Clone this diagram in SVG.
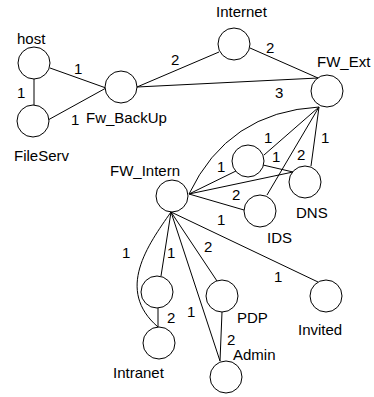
<svg xmlns="http://www.w3.org/2000/svg" width="374" height="397" viewBox="0 0 374 397">
<style>
.n{fill:#fff;stroke:#000;stroke-width:1}
.e{fill:none;stroke:#000;stroke-width:1}
text{font-family:"Liberation Sans",Arial,sans-serif;font-size:15px;fill:#000}
</style>
<rect width="374" height="397" fill="#fff"/>
<g id="connectors">
<line class="e" x1="34" y1="79" x2="34" y2="105"/>
<line class="e" x1="50" y1="68" x2="106" y2="88"/>
<line class="e" x1="48" y1="120" x2="106" y2="88"/>
<line class="e" x1="137" y1="87" x2="219" y2="52"/>
<line class="e" x1="137" y1="87" x2="318" y2="78"/>
<line class="e" x1="250" y1="48" x2="318" y2="78"/>
<path class="e" d="M319,107 Q228,112 189,194"/>
<line class="e" x1="319" y1="107" x2="264" y2="155"/>
<line class="e" x1="319" y1="107" x2="267" y2="195"/>
<line class="e" x1="319" y1="107" x2="311" y2="166"/>
<line class="e" x1="263" y1="165" x2="293" y2="172"/>
<line class="e" x1="189" y1="194" x2="238" y2="170"/>
<line class="e" x1="189" y1="194" x2="293" y2="172"/>
<line class="e" x1="189" y1="194" x2="244" y2="210"/>
<line class="e" x1="171" y1="212" x2="318" y2="282"/>
<path class="e" d="M171,212 C148,245 115,290 158,327"/>
<line class="e" x1="171" y1="212" x2="161" y2="276"/>
<line class="e" x1="171" y1="212" x2="220" y2="361"/>
<line class="e" x1="171" y1="212" x2="217" y2="281"/>
<line class="e" x1="158" y1="308" x2="158" y2="327"/>
<line class="e" x1="222" y1="312" x2="220" y2="361"/>
</g>
<g id="host"><circle class="n" cx="34" cy="63" r="16"/><text x="17" y="44">host</text></g>
<g id="FileServ"><circle class="n" cx="33" cy="121" r="16"/><text x="14" y="161">FileServ</text></g>
<g id="Fw_BackUp"><circle class="n" cx="121" cy="87" r="16"/><text x="86" y="123">Fw_BackUp</text></g>
<g id="Internet"><circle class="n" cx="234" cy="44" r="16"/><text x="216" y="17">Internet</text></g>
<g id="FW_Ext"><circle class="n" cx="327" cy="91" r="16"/><text x="317" y="67">FW_Ext</text></g>
<g id="node_a"><circle class="n" cx="248" cy="161" r="16"/></g>
<g id="DNS"><circle class="n" cx="305" cy="182" r="16"/><text x="296" y="218">DNS</text></g>
<g id="IDS"><circle class="n" cx="260" cy="211" r="16"/><text x="267" y="243">IDS</text></g>
<g id="FW_Intern"><circle class="n" cx="172" cy="196" r="16"/><text x="110" y="176">FW_Intern</text></g>
<g id="node_b"><circle class="n" cx="157" cy="292" r="16"/></g>
<g id="Intranet"><circle class="n" cx="159" cy="343" r="16"/><text x="113" y="378">Intranet</text></g>
<g id="PDP"><circle class="n" cx="222" cy="296" r="16"/><text x="237" y="323">PDP</text></g>
<g id="Admin"><circle class="n" cx="226" cy="377" r="16"/><text x="233" y="360">Admin</text></g>
<g id="Invited"><circle class="n" cx="326" cy="296" r="16"/><text x="298" y="335">Invited</text></g>
<g id="labels">
<text x="74" y="74">1</text>
<text x="17" y="98">1</text>
<text x="71" y="125">1</text>
<text x="171" y="65">2</text>
<text x="266" y="53">2</text>
<text x="275" y="98">3</text>
<text x="264" y="143">1</text>
<text x="272" y="162">1</text>
<text x="297" y="160">2</text>
<text x="321" y="143">1</text>
<text x="217" y="172">1</text>
<text x="232" y="200">2</text>
<text x="217" y="225">1</text>
<text x="122" y="258">1</text>
<text x="167" y="258">1</text>
<text x="204" y="252">2</text>
<text x="167" y="323">2</text>
<text x="187" y="317">1</text>
<text x="227" y="345">2</text>
<text x="274" y="282">1</text>
</g>
</svg>
